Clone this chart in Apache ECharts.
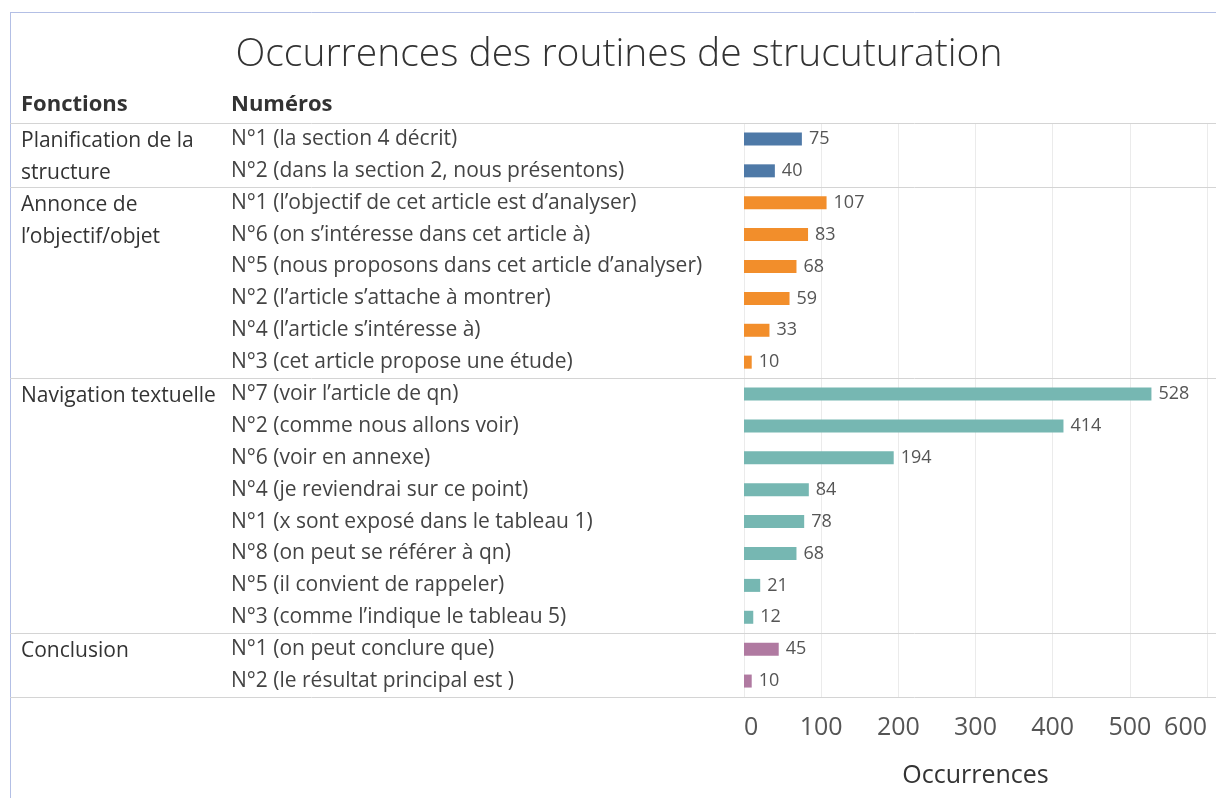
<!DOCTYPE html>
<html>
<head>
<meta charset="utf-8">
<title>Occurrences des routines de strucuturation</title>
<script src="https://cdn.jsdelivr.net/npm/echarts@6/dist/echarts.min.js"></script>
<style>
  html, body { margin: 0; padding: 0; background: #fff; }
  #main { width: 1216px; height: 798px; }
</style>
</head>
<body>
<div id="main"></div>
<script>
// groupes (colonne "Fonctions")
var groupNames = ['Planification de la\nstructure', 'Annonce de\nl’objectif/objet', 'Navigation textuelle', 'Conclusion'];
// groupe de chaque ligne
var rowGroup = [0, 0, 1, 1, 1, 1, 1, 1, 2, 2, 2, 2, 2, 2, 2, 2, 3, 3];
// colonne "Numéros"
var rowLabels = [
    'N°1 (la section 4 décrit)',
    'N°2 (dans la section 2, nous présentons)',
    'N°1 (l’objectif de cet article est d’analyser)',
    'N°6 (on s’intéresse dans cet article à)',
    'N°5 (nous proposons dans cet article d’analyser)',
    'N°2 (l’article s’attache à montrer)',
    'N°4 (l’article s’intéresse à)',
    'N°3 (cet article propose une étude)',
    'N°7 (voir l’article de qn)',
    'N°2 (comme nous allons voir)',
    'N°6 (voir en annexe)',
    'N°4 (je reviendrai sur ce point)',
    'N°1 (x sont exposé dans le tableau 1)',
    'N°8 (on peut se référer à qn)',
    'N°5 (il convient de rappeler)',
    'N°3 (comme l’indique le tableau 5)',
    'N°1 (on peut conclure que)',
    'N°2 (le résultat principal est )'
];
var rowValues = [75, 40, 107, 83, 68, 59, 33, 10, 528, 414, 194, 84, 78, 68, 21, 12, 45, 10];
var xTicks = [0, 100, 200, 300, 400, 500, 600];

var groupColors = ['#4e79a7', '#f28e2b', '#76b7b2', '#b07aa1'];
var fontName = 'Open Sans';

var dom = document.getElementById('main');
var myChart = echarts.init(dom);

var barData = [];
for (var i = 0; i < rowValues.length; i++) {
    barData.push({value: rowValues[i], itemStyle: {color: groupColors[rowGroup[i]]}});
}

var option = {
    animation: false,
    textStyle: {fontFamily: fontName},
    title: {
        text: 'Occurrences des routines de strucuturation',
        left: 614,
        textAlign: 'center',
        top: 30,
        textStyle: {fontFamily: fontName, fontSize: 39, fontWeight: 300, color: '#333'}
    },
    grid: {
        left: 744,
        right: 9,
        top: 123,
        bottom: 101
    },
    xAxis: {
        type: 'value',
        min: xTicks[0],
        max: xTicks[xTicks.length - 1],
        interval: 100,
        axisLine: {show: false},
        axisTick: {show: false},
        splitLine: {lineStyle: {color: '#ebebeb'}},
        axisLabel: {
            fontSize: 25, color: '#555', margin: 18,
            alignMinLabel: 'left', alignMaxLabel: 'right'
        },
        name: 'Occurrences',
        nameLocation: 'middle',
        nameGap: 66,
        nameTextStyle: {fontSize: 25, color: '#333', fontFamily: fontName}
    },
    yAxis: {
        type: 'category',
        inverse: true,
        data: rowLabels,
        axisLine: {show: false},
        axisTick: {show: false},
        axisLabel: {
            align: 'left',
            margin: 513,
            fontSize: 21,
            color: '#444',
            padding: [3, 0, 0, 0]
        }
    },
    series: [
        {
            type: 'bar',
            data: barData,
            barWidth: 13,
            label: {
                show: true,
                position: 'right',
                distance: 7,
                fontSize: 18,
                color: '#555'
            }
        }
    ]
};

myChart.setOption(option);

// séparateurs de groupes, noms de groupes et en-têtes
function draw_table() {
    var graphics = [];
    var lineColor = '#d4d4d4';
    var y0 = myChart.convertToPixel({yAxisIndex: 0}, rowLabels[0]);
    var y1 = myChart.convertToPixel({yAxisIndex: 0}, rowLabels[1]);
    var band = y1 - y0;

    // cadre bleu
    graphics.push({type: 'line', shape: {x1: 10.5, y1: 12, x2: 10.5, y2: 798}, style: {stroke: '#b3bfe5', lineWidth: 1}});
    graphics.push({type: 'line', shape: {x1: 10, y1: 12.5, x2: 1216, y2: 12.5}, style: {stroke: '#b3bfe5', lineWidth: 1}});

    // en-têtes
    graphics.push({type: 'text', left: 21, top: 94, style: {text: 'Fonctions', font: 'bold 22px ' + fontName, fill: '#333'}});
    graphics.push({type: 'text', left: 231, top: 94, style: {text: 'Numéros', font: 'bold 22px ' + fontName, fill: '#333'}});

    for (var i = 0; i < rowLabels.length; i++) {
        var yc = myChart.convertToPixel({yAxisIndex: 0}, rowLabels[i]);
        if (i == 0 || rowGroup[i] != rowGroup[i - 1]) {
            var yl = Math.round(yc - band / 2) + 0.5;
            graphics.push({type: 'line', shape: {x1: 10, y1: yl, x2: 1216, y2: yl}, style: {stroke: lineColor, lineWidth: 1}});
            graphics.push({
                type: 'text',
                x: 21,
                y: yc - band / 2 + 2,
                style: {
                    text: groupNames[rowGroup[i]],
                    font: '500 21px ' + fontName,
                    fill: '#333',
                    lineHeight: band,
                    verticalAlign: 'top'
                }
            });
        }
        if (i == rowLabels.length - 1) {
            var yb = Math.round(yc + band / 2) + 0.5;
            graphics.push({type: 'line', shape: {x1: 10, y1: yb, x2: 1216, y2: yb}, style: {stroke: lineColor, lineWidth: 1}});
        }
    }
    myChart.setOption({graphic: graphics});
}

draw_table();
</script>
</body>
</html>
